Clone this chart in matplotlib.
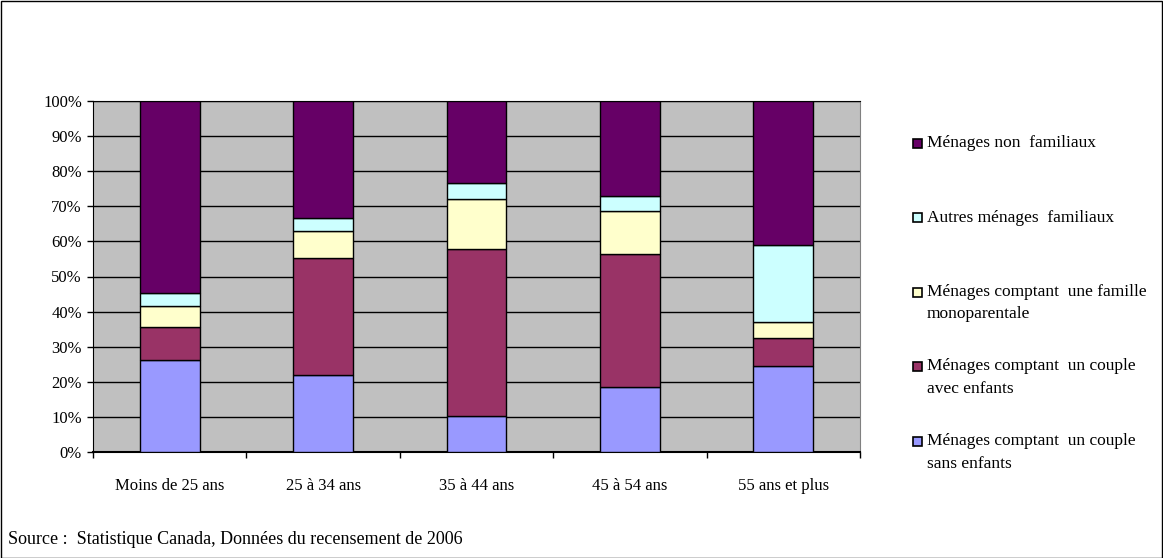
import numpy as np
import matplotlib
matplotlib.use("Agg")
import matplotlib.pyplot as plt
from matplotlib.patches import Rectangle

plt.rcParams["font.family"] = ["Liberation Serif", "DejaVu Serif"]

categories = ["Moins de 25 ans", "25 à 34 ans", "35 à 44 ans", "45 à 54 ans", "55 ans et plus"]
series_names = [
    ["Ménages comptant  un couple", "sans enfants"],
    ["Ménages comptant  un couple", "avec enfants"],
    ["Ménages comptant  une famille", "monoparentale"],
    ["Autres ménages  familiaux"],
    ["Ménages non  familiaux"],
]
sans_enfants = [26.2, 21.9, 10.2, 18.5, 24.5]
avec_enfants = [9.5, 33.3, 47.6, 37.8, 7.9]
monoparentale = [6.0, 7.8, 14.4, 12.5, 4.7]
autres = [3.5, 3.7, 4.3, 4.2, 22.0]
non_familiaux = [54.8, 33.3, 23.5, 27.0, 40.9]
colors = ["#9999FF", "#993366", "#FFFFCC", "#CCFFFF", "#660066"]

series = [sans_enfants, avec_enfants, monoparentale, autres, non_familiaux]

W, H = 1163, 558
fig = plt.figure(figsize=(W / 100, H / 100), dpi=100)
ax = fig.add_axes([93 / W, 1 - 452 / H, (860 - 93) / W, (452 - 101) / H])
ax.set_facecolor("#C0C0C0")

x = np.arange(len(categories))
bottom = np.zeros(len(categories))
for vals, col in zip(series, colors):
    ax.bar(x, vals, width=0.39, bottom=bottom, color=col, edgecolor="black",
           linewidth=1.0, zorder=3)
    bottom += np.array(vals)

ax.set_xlim(-0.5, len(categories) - 0.5)
ax.set_ylim(0, 100)
ax.set_yticks(np.arange(0, 101, 10))
ax.set_yticklabels([f"{v}%" for v in range(0, 101, 10)], fontsize=12)
ax.yaxis.grid(True, color="black", linewidth=1.0, zorder=1)
ax.set_axisbelow(True)
ax.set_xticks(x)
ax.set_xticklabels(categories, fontsize=12)
ax.tick_params(axis="x", length=0, pad=19)
ax.set_xticks(np.arange(-0.5, len(categories)), minor=True)
ax.tick_params(axis="x", which="minor", length=4, width=1, direction="out")
ax.tick_params(axis="y", length=4, width=1, direction="out", pad=4)
ax.spines["right"].set_color("#808080")
ax.spines["bottom"].set_linewidth(1.5)

# legend, top entry first (reverse of stacking order)
for i, (lines, col) in enumerate(zip(series_names[::-1], colors[::-1])):
    yc = 143 + 74.5 * i
    fig.patches.append(Rectangle((913 / W, 1 - (yc + 4.5) / H), 9 / W, 9 / H,
                                 transform=fig.transFigure, facecolor=col,
                                 edgecolor="black", linewidth=1.2))
    for j, line in enumerate(lines):
        fig.text(927 / W, 1 - (yc + 22.5 * j) / H, line, fontsize=12.5,
                 ha="left", va="center")

fig.text(8 / W, 1 - 539 / H, "Source :  Statistique Canada, Données du recensement de 2006",
         fontsize=13, va="center", ha="left")

fig.patches.append(Rectangle((0.5 / W, 0.5 / H), 1 - 1.5 / W, 1 - 1.5 / H,
                             transform=fig.transFigure, fill=False,
                             edgecolor="black", linewidth=1.0))

fig.savefig("out.png", dpi=100)
